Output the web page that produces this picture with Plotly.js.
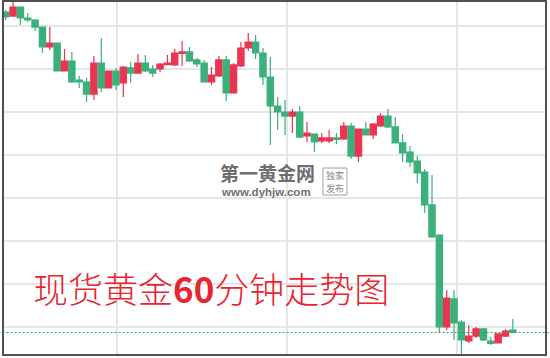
<!DOCTYPE html>
<html>
<head>
<meta charset="utf-8">
<script src="https://cdn.plot.ly/plotly-3.0.1.min.js"></script>
<style>
  html, body { margin: 0; padding: 0; background: #ffffff; }
  #chart { width: 550px; height: 358px; }
</style>
</head>
<body>
<div id="chart"></div>
<script>
// Spot gold, hourly candles (USD/oz)
const opens = [
  1341.63, 1341.16, 1342.21, 1340.93, 1340.70, 1339.88, 1337.56, 1338.02, 1334.77, 1335.93,
  1333.72, 1333.49, 1332.09, 1335.70, 1332.79, 1334.77, 1333.37, 1335.12, 1334.53, 1335.70,
  1335.00, 1335.00, 1335.52, 1335.47, 1336.80, 1336.98, 1336.05, 1335.70, 1333.49, 1334.19,
  1336.05, 1332.21, 1335.35, 1337.44, 1338.14, 1336.86, 1334.07, 1330.70, 1330.00, 1329.53,
  1330.00, 1327.21, 1327.44, 1326.63, 1326.63, 1326.98, 1326.86, 1328.37, 1324.88, 1328.02,
  1327.33, 1328.37, 1329.53, 1328.26, 1326.40, 1325.35, 1324.30, 1323.02, 1319.19, 1315.70,
  1305.00, 1308.26, 1305.58, 1303.37, 1303.95, 1304.77, 1303.37, 1303.14, 1303.95, 1304.65
];
const highs = [
  1341.86, 1342.79, 1342.21, 1341.51, 1340.81, 1339.88, 1339.88, 1338.02, 1337.33, 1336.98,
  1334.19, 1333.95, 1336.51, 1338.60, 1334.77, 1335.12, 1335.35, 1335.81, 1336.74, 1336.63,
  1335.47, 1335.70, 1336.63, 1337.33, 1338.26, 1337.56, 1336.28, 1336.05, 1335.23, 1336.51,
  1336.51, 1335.70, 1338.14, 1339.19, 1338.95, 1337.44, 1336.40, 1331.74, 1331.40, 1330.35,
  1330.70, 1328.84, 1327.44, 1327.56, 1327.91, 1327.56, 1328.84, 1328.72, 1328.02, 1328.84,
  1328.72, 1329.88, 1330.35, 1329.42, 1327.44, 1326.05, 1324.88, 1323.37, 1322.67, 1315.70,
  1309.30, 1309.30, 1305.81, 1305.23, 1305.00, 1304.88, 1303.84, 1304.19, 1304.77, 1305.93
];
const lows = [
  1340.70, 1341.16, 1340.12, 1340.47, 1339.42, 1336.86, 1337.21, 1334.77, 1334.77, 1333.37,
  1332.79, 1331.16, 1331.40, 1332.33, 1332.79, 1332.56, 1331.74, 1333.37, 1334.53, 1334.65,
  1334.07, 1334.65, 1335.47, 1335.35, 1335.35, 1335.81, 1335.23, 1333.49, 1333.14, 1334.07,
  1331.28, 1332.21, 1335.23, 1337.09, 1336.16, 1333.14, 1326.16, 1327.91, 1327.33, 1327.56,
  1326.98, 1326.51, 1325.35, 1326.40, 1326.40, 1326.28, 1326.74, 1324.53, 1324.19, 1327.33,
  1326.86, 1328.26, 1328.14, 1326.40, 1324.19, 1323.60, 1321.74, 1318.26, 1315.35, 1304.42,
  1304.65, 1303.49, 1301.51, 1303.14, 1303.72, 1303.37, 1302.91, 1303.14, 1303.84, 1304.30
];
const closes = [
  1341.05, 1342.21, 1340.93, 1340.70, 1339.88, 1337.56, 1338.02, 1334.77, 1335.93, 1333.49,
  1333.49, 1332.09, 1335.70, 1332.79, 1334.77, 1333.14, 1335.23, 1334.53, 1335.70, 1334.77,
  1334.53, 1335.58, 1335.70, 1336.86, 1336.98, 1335.93, 1335.58, 1333.49, 1334.30, 1336.05,
  1332.21, 1335.47, 1337.44, 1338.14, 1336.86, 1334.07, 1330.70, 1330.00, 1329.53, 1330.00,
  1327.09, 1327.56, 1326.51, 1326.98, 1326.98, 1326.80, 1328.37, 1324.88, 1328.02, 1327.33,
  1328.60, 1329.53, 1328.26, 1326.40, 1325.23, 1324.19, 1322.91, 1319.19, 1315.47, 1305.00,
  1308.37, 1305.47, 1303.49, 1303.95, 1304.77, 1303.49, 1303.08, 1304.19, 1304.53, 1304.36
];

const titleText = '现货黄金<b>60</b>分钟走势图';
const brandName = '第一黄金网';
const brandUrl = 'www.dyhjw.com';
const brandTagTop = '独家';
const brandTagBottom = '发布';

const UP = '#ec3450';
const DOWN = '#3bb07b';

const hours = opens.map((_, i) => i);
const lastClose = closes[closes.length - 1];

const candles = {
  type: 'candlestick',
  x: hours,
  open: opens,
  high: highs,
  low: lows,
  close: closes,
  increasing: { line: { color: UP, width: 1.2 }, fillcolor: UP },
  decreasing: { line: { color: DOWN, width: 1.2 }, fillcolor: DOWN },
  whiskerwidth: 0,
  hoverinfo: 'skip',
  showlegend: false
};

const tagFont = { family: '"Noto Sans CJK SC", sans-serif', size: 9, color: '#8a8a8a' };

const layout = {
  width: 550,
  height: 358,
  margin: { l: 4, r: 5, t: 2, b: 4 },
  paper_bgcolor: '#ffffff',
  plot_bgcolor: '#ffffff',
  boxgap: 0.1,
  boxgroupgap: 0.05,
  showlegend: false,
  xaxis: {
    range: [-0.231, 73.374],
    rangeslider: { visible: false },
    showticklabels: false,
    ticks: '',
    tick0: 15.14,
    dtick: 23.13,
    showgrid: true,
    gridcolor: '#e3e6ea',
    gridwidth: 1.5,
    zeroline: false,
    showline: true,
    mirror: true,
    linecolor: '#505050',
    linewidth: 2,
    fixedrange: true
  },
  yaxis: {
    range: [1301.86, 1342.791],
    showticklabels: false,
    ticks: '',
    tick0: 1300,
    dtick: 5,
    showgrid: true,
    gridcolor: '#e3e6ea',
    gridwidth: 1.5,
    zeroline: false,
    showline: true,
    mirror: true,
    linecolor: '#505050',
    linewidth: 2,
    fixedrange: true
  },
  shapes: [
    {
      type: 'line',
      xref: 'paper', yref: 'y',
      x0: -0.01, x1: 1.01,
      y0: lastClose, y1: lastClose,
      line: { color: '#2e9e68', width: 1, dash: '2px,2px' },
      layer: 'above'
    },
    {
      type: 'rect',
      xref: 'paper', yref: 'paper',
      x0: 0.5896, x1: 0.634,
      y0: 0.4517, y1: 0.5284,
      line: { color: '#a0a0a0', width: 1 },
      fillcolor: 'rgba(255,255,255,0)',
      layer: 'above'
    }
  ],
  annotations: [
    {
      xref: 'paper', yref: 'paper',
      x: 0.05, y: 0.188,
      xanchor: 'left', yanchor: 'middle',
      text: titleText,
      showarrow: false,
      font: { family: '"Noto Sans CJK SC", "Noto Sans", sans-serif', size: 35, weight: 300, color: '#e8242f' }
    },
    {
      xref: 'paper', yref: 'paper',
      x: 0.395, y: 0.515,
      xanchor: 'left', yanchor: 'middle',
      text: '<b>' + brandName + '</b>',
      showarrow: false,
      font: { family: '"Noto Sans CJK SC", sans-serif', size: 19, color: '#6e6e6e' }
    },
    {
      xref: 'paper', yref: 'paper',
      x: 0.397, y: 0.46,
      xanchor: 'left', yanchor: 'middle',
      text: '<b>' + brandUrl + '</b>',
      showarrow: false,
      font: { family: '"Liberation Sans", Arial, sans-serif', size: 11.5, color: '#707070' }
    },
    {
      xref: 'paper', yref: 'paper',
      x: 0.612, y: 0.5085,
      xanchor: 'center', yanchor: 'middle',
      text: brandTagTop,
      showarrow: false,
      borderpad: 0,
      font: tagFont
    },
    {
      xref: 'paper', yref: 'paper',
      x: 0.612, y: 0.4688,
      xanchor: 'center', yanchor: 'middle',
      text: brandTagBottom,
      showarrow: false,
      borderpad: 0,
      font: tagFont
    }
  ]
};

Plotly.newPlot('chart', [candles], layout, { displayModeBar: false, staticPlot: true });
</script>
</body>
</html>
